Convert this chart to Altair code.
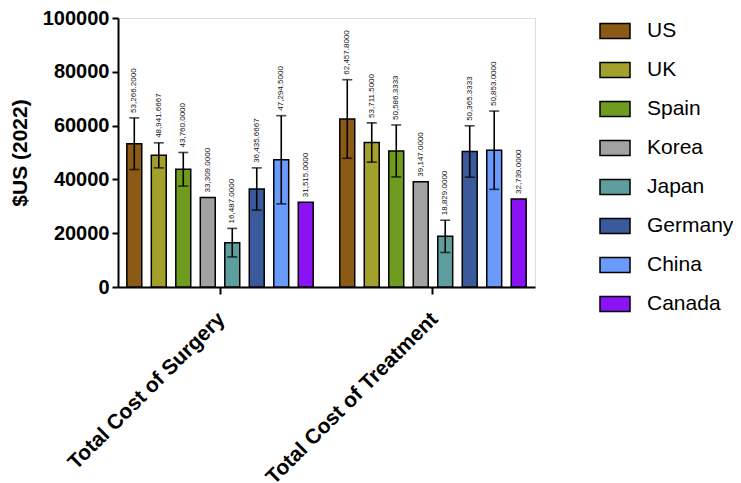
import altair as alt
import pandas as pd

categories = ["Total Cost of Surgery", "Total Cost of Treatment"]
countries = ["US", "UK", "Spain", "Korea", "Japan", "Germany", "China", "Canada"]
colors = ["#8C5A17", "#A3A02B", "#6F9B1F", "#A2A2A2", "#5F9E9E", "#3A5A9C", "#6A9BFA", "#8A12F5"]

surgery_mean = [53266.2, 48941.6667, 43760.0, 33309.0, 16487.0, 36435.6667, 47294.5, 31515.0]
surgery_sd = [9600, 4650, 6250, None, 5300, 7850, 16400, None]
treatment_mean = [62457.8, 53711.5, 50586.3333, 39147.0, 18829.0, 50365.3333, 50853.0, 32739.0]
treatment_sd = [14600, 7300, 9650, None, 6000, 9550, 14550, None]

rows = []
for cat, means, sds in [(categories[0], surgery_mean, surgery_sd), (categories[1], treatment_mean, treatment_sd)]:
    for c, m, s in zip(countries, means, sds):
        rows.append({
            "cat": cat, "country": c, "mean": m,
            "lo": (m - s) if s is not None else None,
            "hi": (m + s) if s is not None else None,
            "top": (m + s) if s is not None else m,
        })
df = pd.DataFrame(rows)
err = df.dropna(subset=["lo"])

FONT = "Liberation Sans"

x = alt.X("cat:N", sort=categories, title=None,
          scale=alt.Scale(paddingInner=0.08, paddingOuter=0.019),
          axis=alt.Axis(labelAngle=-45, labelFontSize=21, labelFontWeight="bold", labelFont=FONT,
                        labelColor="black", domainColor="black", domainWidth=2, tickColor="black",
                        tickWidth=2, tickSize=7, labelPadding=14, labelOffset=-6, labelLimit=400))
xo = alt.XOffset("country:N", sort=countries,
                 scale=alt.Scale(paddingInner=0.39, paddingOuter=0.195))
y = alt.Y("mean:Q", title="$US (2022)",
          scale=alt.Scale(domain=[0, 100000], nice=False),
          axis=alt.Axis(values=[0, 20000, 40000, 60000, 80000, 100000], format="d", grid=False,
                        labelFontSize=20, labelFontWeight="bold", labelFont=FONT, labelColor="black",
                        titleFontSize=21, titleFontWeight="bold", titleFont=FONT, titleColor="black",
                        domainColor="black", domainWidth=2, tickColor="black", tickWidth=2, tickSize=6,
                        labelPadding=3, titlePadding=12))
color = alt.Color("country:N", sort=countries, title=None,
                  scale=alt.Scale(domain=countries, range=colors),
                  legend=alt.Legend(orient="none", legendX=481, legendY=-3,
                                    symbolType="M-1,-0.5H1V0.5H-1Z", symbolSize=900,
                                    symbolStrokeColor="black", symbolStrokeWidth=1.5, symbolOpacity=1,
                                    labelFontSize=21, labelFont=FONT, labelColor="black",
                                    labelOffset=16, rowPadding=12))

bars = alt.Chart(df).mark_bar(stroke="black", strokeWidth=1.5, opacity=1).encode(
    x=x, xOffset=xo, y=y, color=color)

rules = alt.Chart(err).mark_rule(color="black", strokeWidth=1.6).encode(
    x=x, xOffset=xo, y="lo:Q", y2="hi:Q")
cap_hi = alt.Chart(err).mark_tick(color="black", thickness=1.6, size=10).encode(
    x=x, xOffset=xo, y="hi:Q")
cap_lo = alt.Chart(err).mark_tick(color="black", thickness=1.6, size=10).encode(
    x=x, xOffset=xo, y="lo:Q")

labels = alt.Chart(df).mark_text(angle=270, align="left", baseline="middle", dx=5,
                                 fontSize=8, font=FONT, color="#111111").encode(
    x=x, xOffset=xo, y="top:Q", text=alt.Text("mean:Q", format=",.4f"))

chart = alt.layer(bars, rules, cap_hi, cap_lo, labels).properties(
    width=417, height=269,
    autosize=alt.AutoSizeParams(type="none"),
    padding={"left": 110, "top": 10, "right": 198, "bottom": 196},
).configure_view(stroke=None).configure(background="white")

chart.save("out.html", embed_options={"renderer": "svg", "actions": False})
